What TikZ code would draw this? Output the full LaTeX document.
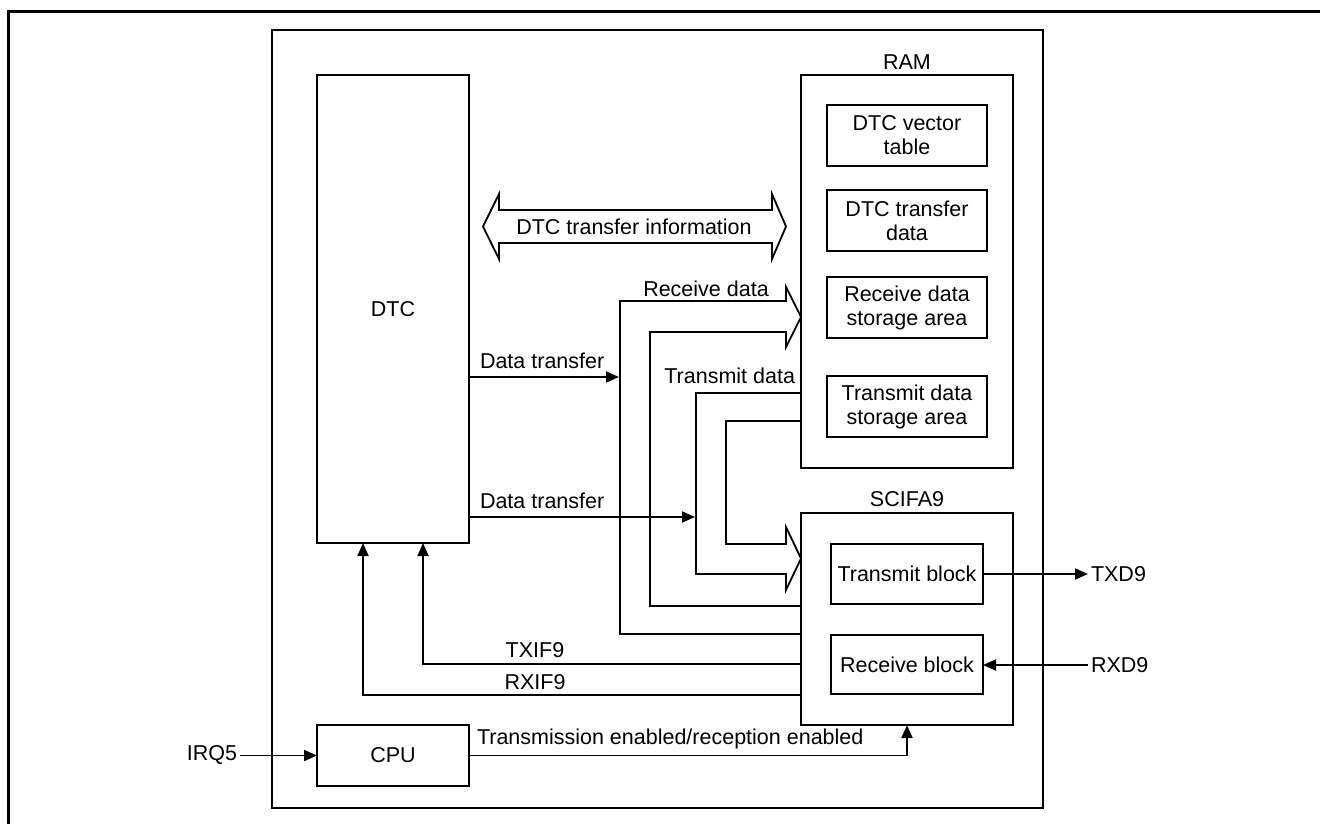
\documentclass[tikz,border=0pt]{standalone}
\usepackage{fontspec}
\setmainfont{Liberation Sans}
\usetikzlibrary{arrows.meta}
\begin{document}
\begin{tikzpicture}[x=1pt,y=-1pt,
  every node/.style={font=\fontsize{21.5}{24}\selectfont, inner sep=0pt, outer sep=0pt},
  box/.style={draw, line width=1.8pt, align=center},
  wire/.style={line width=1.8pt},
  sig/.style={wire, -{Triangle[length=13pt,width=11pt]}},
  hollow/.style={line width=1.8pt, line join=miter}]
\useasboundingbox (0,0) rectangle (1320,824);
% page frame, running past the right and bottom edges
\begin{scope}
  \clip (0,0) rectangle (1320,824);
  \draw[line width=3.5pt] (8.5,11.5) rectangle (1340,840);
\end{scope}

% chip outline
\node[box, minimum width=771, minimum height=778] (chip) at (657.5,419) {};

% DTC and CPU
\node[box, minimum width=152, minimum height=468] (dtc) at (393,309) {DTC};
\node[box, minimum width=152, minimum height=61] (cpu) at (393,755.5) {CPU};

% RAM with its areas
\node[box, minimum width=212, minimum height=393] (ram) at (907,271.5) {};
\node (ramlbl) at (907,62) {RAM};
\node[box, minimum width=160, minimum height=61] (vec) at (907,135.5) {DTC vector\\table};
\node[box, minimum width=160, minimum height=61] (xfer) at (907,220.5) {DTC transfer\\data};
\node[box, minimum width=160, minimum height=61] (rxa) at (907,307.5) {Receive data\\storage area};
\node[box, minimum width=160, minimum height=61] (txa) at (907,406.5) {Transmit data\\storage area};

% SCIFA9 with its blocks
\node[box, minimum width=212, minimum height=212] (scifa) at (907,619) {};
\node (scifalbl) at (907,499) {SCIFA9};
\node[box, minimum width=152, minimum height=60] (txb) at (907,574) {Transmit block};
\node[box, minimum width=152, minimum height=59] (rxb) at (907,664.5) {Receive block};

% external pins
\node[anchor=west] (txd) at (1091,574) {TXD9};
\node[anchor=west] (rxd) at (1091,665) {RXD9};
\node[anchor=east] (irq) at (237,755.5) {IRQ5};
\draw[sig] (txb.east) -- ([xshift=-3pt]txd.west);
\draw[sig] ([xshift=-3pt]rxd.west) -- (rxb.east |- rxd.west);
\draw[sig] ([xshift=3pt]irq.east) -- (cpu.west);

% DTC transfer information (double hollow arrow)
\draw[hollow] (483,226.5) -- (499,194) -- (499,210) -- (772,210) -- (772,194)
  -- (786,226.5) -- (772,259) -- (772,243) -- (499,243) -- (499,259) -- cycle;
\node (info) at (634,226.5) {DTC transfer information};

% receive data path: SCIFA9 -> RAM
\draw[hollow] (scifa.west |- 0,634) -- (620,634) -- (620,301) -- (786,301) -- (786,287)
  -- (801,317) -- (786,347) -- (786,332) -- (650,332) -- (650,606) -- (scifa.west |- 0,606);
\node (rxlbl) at (706,289) {Receive data};

% transmit data path: RAM -> SCIFA9
\draw[hollow] (ram.west |- 0,393) -- (696,393) -- (696,574) -- (786,574) -- (786,590)
  -- (801,558.5) -- (786,527) -- (786,544) -- (726,544) -- (726,421) -- (ram.west |- 0,421);
\node[anchor=east] (txlbl) at (795,376) {Transmit data};

% DTC data transfers
\draw[sig] (dtc.east |- 0,377) -- (619,377);
\node[anchor=west] (dt1) at (480,361) {Data transfer};
\draw[sig] (dtc.east |- 0,517) -- (695,517);
\node[anchor=west] (dt2) at (480,501) {Data transfer};

% interrupt requests to the DTC
\draw[sig] (scifa.west |- 0,664) -- (423,664) -- (423,0 |- dtc.south);
\node (txif) at (535,650) {TXIF9};
\draw[sig] (scifa.west |- 0,695) -- (363,695) -- (363,0 |- dtc.south);
\node (rxif) at (535,682) {RXIF9};

% CPU enables SCIFA9
\draw[sig] (cpu.east) -- (907,755.5) -- (scifa.south);
\node[anchor=west] (en) at (477,739) {Transmission enabled/reception enabled};
\end{tikzpicture}
\end{document}
